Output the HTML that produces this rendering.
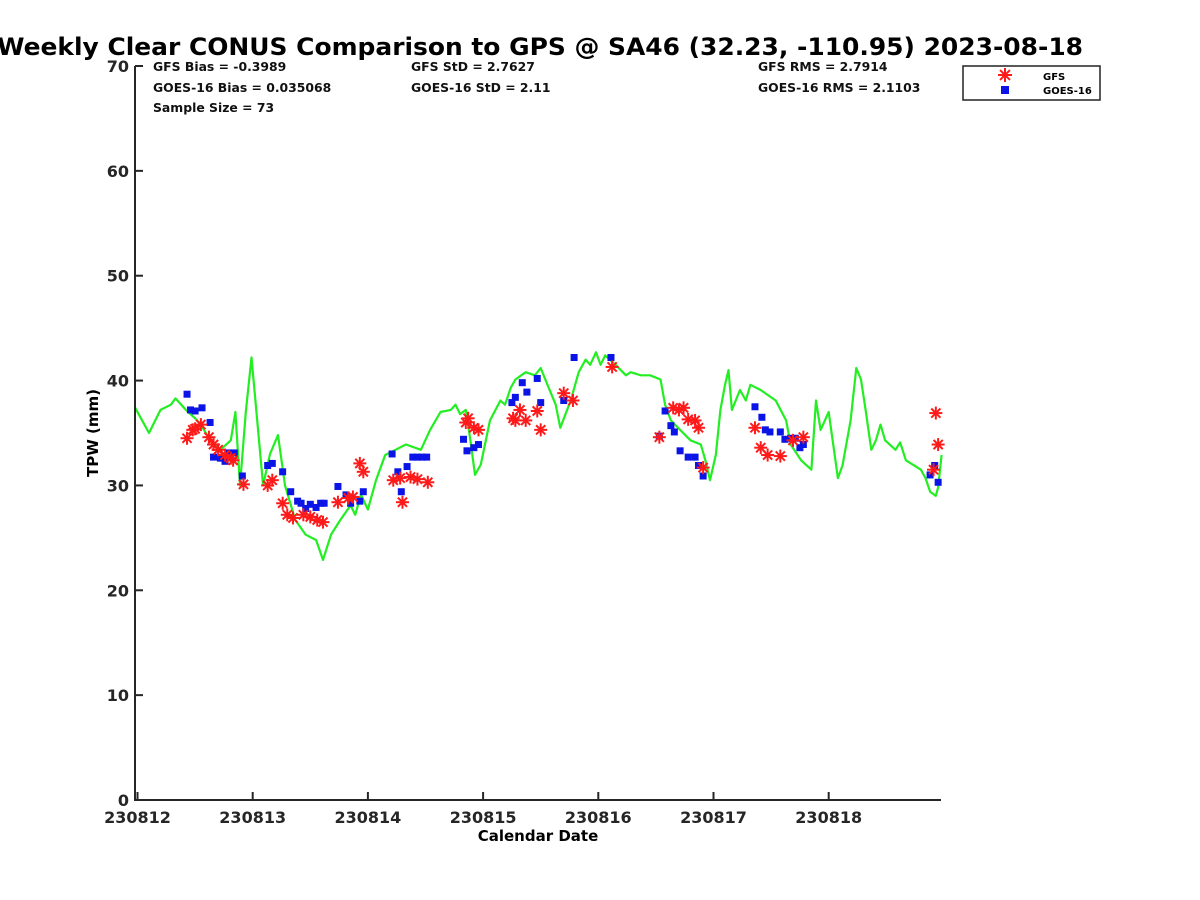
<!DOCTYPE html>
<html><head><meta charset="utf-8"><style>
html,body{margin:0;padding:0;background:#fff;}
svg{display:block;font-family:"DejaVu Sans","Liberation Sans",sans-serif;font-weight:bold;}
</style></head><body>
<svg id="chart" width="1200" height="900" viewBox="0 0 1200 900" xmlns="http://www.w3.org/2000/svg">
<rect width="1200" height="900" fill="#fff"/>
<text x="540" y="55" text-anchor="middle" font-size="24" textLength="1086" lengthAdjust="spacingAndGlyphs">Weekly Clear CONUS Comparison to GPS @ SA46 (32.23, -110.95) 2023-08-18</text>
<g id="stats" font-size="12.4" fill="#111">
<text x="153" y="71">GFS Bias = -0.3989</text>
<text x="153" y="92">GOES-16 Bias = 0.035068</text>
<text x="153" y="112">Sample Size = 73</text>
<text x="411" y="71">GFS StD = 2.7627</text>
<text x="411" y="92">GOES-16 StD = 2.11</text>
<text x="758" y="71">GFS RMS = 2.7914</text>
<text x="758" y="92">GOES-16 RMS = 2.1103</text>
</g>
<g id="plot"></g>
<g id="axes"></g>
<g>
<rect x="963" y="66" width="137" height="34" fill="#fff" stroke="#222" stroke-width="1.5"/>
<g id="legmarks"></g>
<text x="1043" y="80" font-size="10">GFS</text>
<text x="1043" y="94" font-size="10">GOES-16</text>
</g>
<text transform="translate(98,433) rotate(-90)" text-anchor="middle" font-size="15">TPW (mm)</text>
<text x="538" y="841" text-anchor="middle" font-size="15">Calendar Date</text>
</svg>
<script>
const xTickLabels=["230812","230813","230814","230815","230816","230817","230818"];
const yTicks=[0,10,20,30,40,50,60,70];
const gpsT=[-0.02,0.10,0.20,0.29,0.33,0.42,0.50,0.55,0.63,0.72,0.81,0.85,0.89,0.94,0.99,1.09,1.15,1.22,1.28,1.37,1.46,1.55,1.61,1.68,1.76,1.85,1.89,1.94,2.00,2.07,2.15,2.24,2.33,2.46,2.54,2.63,2.72,2.76,2.80,2.85,2.89,2.93,2.98,3.06,3.15,3.19,3.24,3.28,3.37,3.45,3.50,3.54,3.63,3.67,3.76,3.83,3.89,3.93,3.98,4.02,4.06,4.15,4.24,4.28,4.37,4.45,4.54,4.58,4.63,4.71,4.80,4.89,4.93,4.97,5.02,5.06,5.10,5.13,5.16,5.23,5.28,5.32,5.41,5.54,5.63,5.67,5.76,5.85,5.89,5.93,6.00,6.08,6.12,6.19,6.24,6.28,6.32,6.37,6.41,6.45,6.49,6.58,6.62,6.67,6.80,6.84,6.88,6.93,6.95,6.98];
const gpsV=[37.4,35.0,37.2,37.7,38.3,37.2,36.4,35.8,34.3,33.4,34.3,37.0,30.0,37.0,42.2,30.0,33.0,34.8,30.0,26.7,25.3,24.8,22.9,25.3,26.7,28.1,27.2,29.1,27.7,30.5,32.9,33.4,33.9,33.4,35.3,37.0,37.2,37.7,36.8,37.2,34.3,31.0,32.0,36.2,38.1,37.7,39.3,40.1,40.8,40.5,41.2,40.1,37.7,35.5,38.1,40.8,42.0,41.5,42.7,41.5,42.4,41.5,40.5,40.8,40.5,40.5,40.1,37.7,36.2,35.3,34.3,33.9,32.4,30.5,32.9,37.2,39.6,41.0,37.2,39.1,38.1,39.6,39.1,38.1,36.2,33.9,32.4,31.5,38.1,35.3,37.0,30.7,31.9,36.2,41.2,40.1,37.2,33.4,34.3,35.8,34.3,33.4,34.1,32.4,31.5,30.7,29.4,29.0,29.8,32.9];
const gfsT=[0.43,0.48,0.50,0.55,0.62,0.66,0.70,0.76,0.81,0.83,0.92,1.13,1.17,1.26,1.30,1.35,1.44,1.50,1.56,1.61,1.74,1.83,1.87,1.93,1.96,2.22,2.28,2.30,2.37,2.43,2.52,2.85,2.87,2.92,2.96,3.26,3.28,3.32,3.37,3.47,3.50,3.70,3.78,4.12,4.53,4.65,4.70,4.74,4.78,4.84,4.87,4.91,5.36,5.41,5.47,5.58,5.69,5.78,6.91,6.93,6.95];
const gfsV=[34.5,35.3,35.4,35.8,34.6,33.9,33.4,32.9,32.6,32.4,30.1,30.0,30.5,28.3,27.2,26.9,27.2,27.0,26.7,26.5,28.4,28.8,28.9,32.1,31.3,30.5,30.7,28.4,30.8,30.6,30.3,36.0,36.4,35.5,35.3,36.4,36.2,37.2,36.2,37.1,35.3,38.8,38.1,41.3,34.6,37.4,37.2,37.4,36.3,36.2,35.5,31.7,35.5,33.6,32.9,32.8,34.3,34.6,31.5,36.9,33.9];
const goesT=[0.43,0.46,0.50,0.56,0.63,0.66,0.72,0.76,0.79,0.84,0.91,1.13,1.17,1.26,1.33,1.39,1.42,1.46,1.50,1.55,1.59,1.62,1.74,1.81,1.85,1.93,1.96,2.21,2.26,2.29,2.34,2.39,2.43,2.47,2.51,2.83,2.86,2.92,2.96,3.25,3.28,3.34,3.38,3.47,3.50,3.70,3.79,4.11,4.53,4.58,4.63,4.66,4.71,4.78,4.84,4.87,4.91,5.36,5.42,5.45,5.49,5.58,5.62,5.67,5.71,5.75,5.78,6.88,6.92,6.95];
const goesV=[38.7,37.2,37.1,37.4,36.0,32.7,32.6,32.3,33.1,33.1,30.9,31.9,32.1,31.3,29.4,28.5,28.3,27.8,28.2,27.9,28.3,28.3,29.9,29.1,28.3,28.5,29.4,33.0,31.3,29.4,31.8,32.7,32.7,32.7,32.7,34.4,33.3,33.6,33.9,37.9,38.4,39.8,38.9,40.2,37.9,38.1,42.2,42.2,34.7,37.1,35.7,35.1,33.3,32.7,32.7,31.9,30.9,37.5,36.5,35.3,35.1,35.1,34.4,34.5,34.5,33.6,33.9,31.0,31.9,30.3];

const NS="http://www.w3.org/2000/svg";
const L=135,R=941,T=66,B=800;
const x0=137.5,dayPx=115.2;
function X(d){return x0+d*dayPx;}
function Y(v){return B-(v/70)*(B-T);}
function mk(tag,attrs,parent){const e=document.createElementNS(NS,tag);for(const k in attrs)e.setAttribute(k,attrs[k]);parent.appendChild(e);return e;}
const plot=document.getElementById('plot'),axes=document.getElementById('axes');

const pts=gpsT.map((t,i)=>X(t).toFixed(1)+","+Y(gpsV[i]).toFixed(1)).join(" ");
const line=mk('polyline',{points:pts,fill:'none',stroke:'#22ee22','stroke-width':2.2,'stroke-linejoin':'round'},plot);



function star(cx,cy,r,parent,name){
  const g=mk('g',{stroke:'#ff1a1a','stroke-width':2},parent);
  
  
  for(let k=0;k<4;k++){const a=k*Math.PI/4;mk('line',{x1:cx-r*Math.cos(a),y1:cy-r*Math.sin(a),x2:cx+r*Math.cos(a),y2:cy+r*Math.sin(a)},g);}
}
function sq(cx,cy,s,parent,name){
  const r=mk('rect',{x:cx-s/2,y:cy-s/2,width:s,height:s,fill:'#0a14e6'},parent);
  
  
}
goesT.forEach((t,i)=>sq(X(t),Y(goesV[i]),7,plot,'goes-point'));
gfsT.forEach((t,i)=>star(X(t),Y(gfsV[i]),6.5,plot,'gfs-point'));

const ax=mk('path',{d:`M${L},${T} V${B} H${R}`,fill:'none',stroke:'#262626','stroke-width':2},axes);


yTicks.forEach(v=>{
  mk('line',{x1:L,y1:Y(v),x2:L+8,y2:Y(v),stroke:'#262626','stroke-width':2},axes);
  const t=mk('text',{x:L-6,y:Y(v)+6,'text-anchor':'end','font-size':16,fill:'#262626'},axes);
  
  
  t.textContent=v;
});
xTickLabels.forEach((lab,i)=>{
  mk('line',{x1:X(i),y1:B,x2:X(i),y2:B-8,stroke:'#262626','stroke-width':2},axes);
  const t=mk('text',{x:X(i),y:B+23,'text-anchor':'middle','font-size':16,fill:'#262626'},axes);
  
  
  t.textContent=lab;
});
const lg=document.getElementById('legmarks');
star(1005,75,7,lg,'legend-gfs-marker');
sq(1005,90,8,lg,'legend-goes-marker');
</script>
</body></html>
